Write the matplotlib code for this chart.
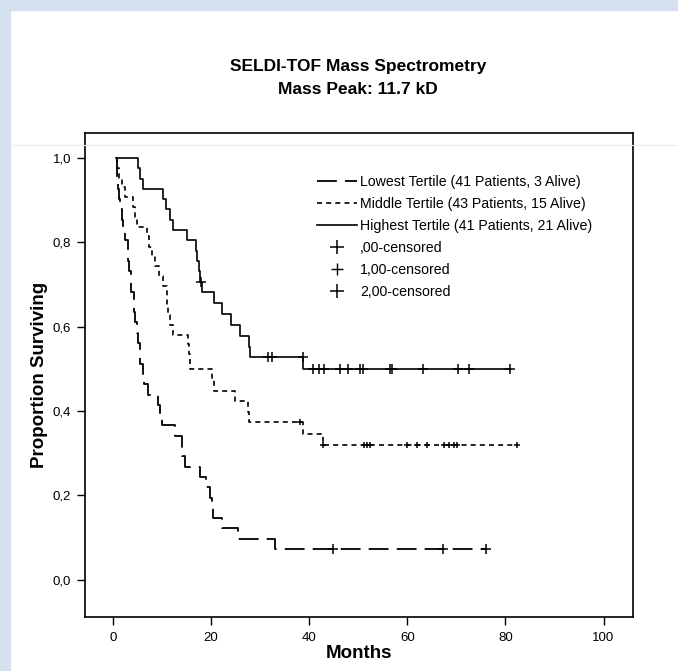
import matplotlib
matplotlib.use("Agg")
import matplotlib.pyplot as plt
import numpy as np
from matplotlib.lines import Line2D
from matplotlib.patches import Rectangle
from matplotlib.ticker import FuncFormatter

plt.rcParams["font.family"] = ["Liberation Sans", "DejaVu Sans"]

# Kaplan-Meier steps: (months, proportion surviving)
low_t = [0.7, 0.75, 0.9, 0.95, 1.2, 1.5, 1.8, 2.0, 2.5, 3.0, 3.1, 3.2, 3.6, 3.7, 4.2, 4.3, 4.4, 5.0, 5.1, 5.5,
         5.6, 6.2, 6.4, 7.1, 9.2, 9.6, 10.0, 12.6, 14.0, 14.1, 14.7, 17.8, 19.0, 19.8, 20.2, 20.3, 22.2, 25.5, 33.1]
low_s = [1.0, 0.976, 0.951, 0.927, 0.902, 0.878, 0.854, 0.829, 0.805, 0.780, 0.756, 0.732, 0.707, 0.683, 0.659,
         0.634, 0.610, 0.585, 0.561, 0.537, 0.512, 0.488, 0.463, 0.439, 0.415, 0.390, 0.366, 0.341, 0.317, 0.293,
         0.268, 0.244, 0.220, 0.195, 0.171, 0.146, 0.122, 0.098, 0.073]
low_end = 76.0
low_cens = [44.9, 67.3, 76.0]

mid_t = [0.7, 0.75, 1.2, 1.8, 2.5, 4.0, 4.4, 4.8, 7.0, 7.3, 8.0, 8.6, 9.3, 10.3, 11.0, 11.1, 11.3, 11.6, 12.3,
         15.3, 15.5, 15.7, 20.1, 20.5, 24.9, 27.6, 27.8, 38.8, 42.8]
mid_s = [1.0, 0.977, 0.953, 0.930, 0.907, 0.884, 0.860, 0.837, 0.814, 0.790, 0.767, 0.744, 0.720, 0.697, 0.674,
         0.651, 0.628, 0.605, 0.581, 0.558, 0.535, 0.500, 0.474, 0.448, 0.423, 0.398, 0.373, 0.345, 0.320]
mid_end = 82.4
mid_cens = [38.2, 42.9, 51.1, 51.8, 52.4, 59.9, 62.0, 64.0, 67.4, 68.4, 69.5, 70.1, 82.4]

high_t = [0.7, 5.2, 5.6, 6.2, 10.2, 10.9, 11.6, 12.2, 15.0, 16.9, 17.2, 17.5, 17.8, 18.2, 20.5, 22.3, 24.0,
          25.9, 27.8, 28.0, 38.8]
high_s = [1.0, 0.976, 0.951, 0.927, 0.902, 0.878, 0.854, 0.829, 0.805, 0.780, 0.756, 0.732, 0.707, 0.683, 0.657,
          0.631, 0.605, 0.579, 0.553, 0.527, 0.500]
high_end = 81.0
high_cens = [18.0, 31.7, 32.4, 38.7, 40.7, 41.9, 43.1, 46.3, 48.0, 50.3, 51.0, 56.4, 56.9, 63.2, 70.3, 72.5, 81.0]

labels = ["Lowest Tertile (41 Patients, 3 Alive)",
          "Middle Tertile (43 Patients, 15 Alive)",
          "Highest Tertile (41 Patients, 21 Alive)"]
cens_labels = [",00-censored", "1,00-censored", "2,00-censored"]

LOW_DASH = (11, 4.5)
MID_DASH = (3, 2.5)


def level_at(times, surv, t):
    idx = np.searchsorted(times, t, side="right") - 1
    return np.asarray(surv)[idx]


fig = plt.figure(figsize=(6.78, 6.71), dpi=100)
# screenshot frame
fig.patches.append(Rectangle((0, 0), 10 / 678, 1, transform=fig.transFigure, color="#d5e1ee", zorder=0))
fig.patches.append(Rectangle((0, 1 - 10 / 671), 1, 10 / 671, transform=fig.transFigure, color="#d5e1ee", zorder=0))
fig.lines.append(Line2D([10 / 678, 1], [1 - 145 / 671] * 2, transform=fig.transFigure, color="#ececec", lw=0.8))

ax = fig.add_axes([85 / 678, 1 - 617 / 671, 548 / 678, 484 / 671])

curves = [
    (low_t, low_s, low_end, low_cens, LOW_DASH, 1.3),
    (mid_t, mid_s, mid_end, mid_cens, MID_DASH, 1.2),
    (high_t, high_s, high_end, high_cens, None, 1.2),
]
for t, s, end, cens, dash, lw in curves:
    xs = list(t) + [end]
    ys = list(s) + [s[-1]]
    line, = ax.plot(xs, ys, drawstyle="steps-post", color="black", lw=lw)
    if dash:
        line.set_dashes(dash)
    cy = [level_at(t, s, c) for c in cens]
    ax.plot(cens, cy, linestyle="none", marker="+", ms=7 if dash != MID_DASH else 5,
            mew=1.1, color="black")

ax.set_xlim(-5.7, 106)
ax.set_ylim(-0.088, 1.059)
ax.set_xticks([0, 20, 40, 60, 80, 100])
ax.set_yticks([0.0, 0.2, 0.4, 0.6, 0.8, 1.0])
ax.yaxis.set_major_formatter(FuncFormatter(lambda v, _: f"{v:.1f}".replace(".", ",")))
ax.tick_params(direction="out", length=6, width=1.0, labelsize=9.5, pad=4)
ax.tick_params(axis="x", pad=5)
for sp in ax.spines.values():
    sp.set_linewidth(1.2)

ax.set_xlabel("Months", fontsize=13.5, fontweight="bold", labelpad=0.5)
ax.set_ylabel("Proportion Surviving", fontsize=13.5, fontweight="bold", labelpad=3)

fig.text(358 / 678, 1 - 66 / 671, "SELDI-TOF Mass Spectrometry", ha="center", va="center",
         fontsize=12.5, fontweight="bold")
fig.text(358 / 678, 1 - 89 / 671, "Mass Peak: 11.7 kD", ha="center", va="center",
         fontsize=12.5, fontweight="bold")

handles = [
    Line2D([], [], color="black", lw=1.3, dashes=LOW_DASH),
    Line2D([], [], color="black", lw=1.2, dashes=MID_DASH),
    Line2D([], [], color="black", lw=1.2),
    Line2D([], [], color="black", linestyle="none", marker="+", ms=10, mew=1.1),
    Line2D([], [], color="black", linestyle="none", marker="+", ms=8, mew=1.0),
    Line2D([], [], color="black", linestyle="none", marker="+", ms=10, mew=1.1),
]
ax.legend(handles, labels + cens_labels, loc="upper left", bbox_to_anchor=(0.405, 0.934),
          frameon=False, fontsize=10.2, handlelength=2.85, handletextpad=0.2, labelspacing=0.57,
          borderpad=0.2)

fig.savefig("out.png", dpi=100)
